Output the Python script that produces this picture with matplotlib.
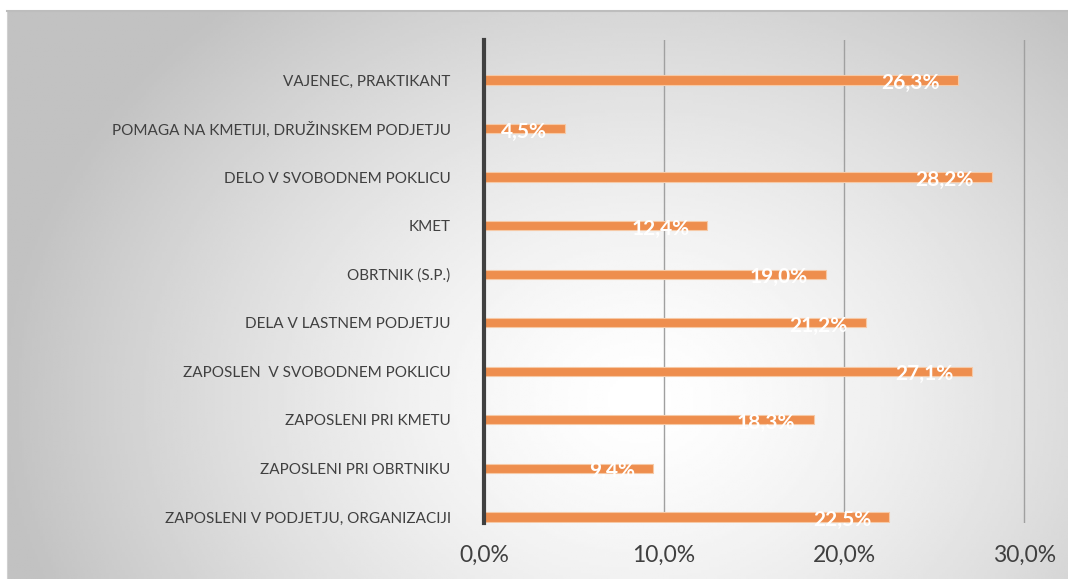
import numpy as np
import matplotlib.pyplot as plt

categories = [
    "ZAPOSLENI V PODJETJU, ORGANIZACIJI",
    "ZAPOSLENI PRI OBRTNIKU",
    "ZAPOSLENI PRI KMETU",
    "ZAPOSLEN  V SVOBODNEM POKLICU",
    "DELA V LASTNEM PODJETJU",
    "OBRTNIK (S.P.)",
    "KMET",
    "DELO V SVOBODNEM POKLICU",
    "POMAGA NA KMETIJI, DRUŽINSKEM PODJETJU",
    "VAJENEC, PRAKTIKANT",
]
values = [22.5, 9.4, 18.3, 27.1, 21.2, 19.0, 12.4, 28.2, 4.5, 26.3]
xticks = [0, 10, 20, 30]

plt.rcParams['font.family'] = ['Lato', 'DejaVu Sans']

W, H = 1068, 579
fig = plt.figure(figsize=(W / 100, H / 100), dpi=100)
fig.patch.set_facecolor('white')

# radial grey background of the chart frame
bg = fig.add_axes([7 / W, 0, 1 - 7 / W, (H - 11) / H], zorder=0)
gx, gy = np.meshgrid(np.linspace(7, W, 400), np.linspace(11, H, 220))
t = np.sqrt(((gx - 640) / 640) ** 2 + ((gy - 400) / 520) ** 2)
shade = 1 - 0.24 * np.clip(t, 0, 1) ** 1.4
bg.imshow(shade, cmap='gray', vmin=0, vmax=1, aspect='auto',
          extent=[0, 1, 0, 1], origin='upper')
bg.set_xticks([])
bg.set_yticks([])
for s in bg.spines.values():
    s.set_visible(False)
bg.spines['top'].set_visible(True)
bg.spines['top'].set_color('#bdbdbd')
bg.spines['top'].set_linewidth(1.5)
bg.spines['left'].set_visible(True)
bg.spines['left'].set_color('#d0d0d0')

ax = fig.add_axes([484 / W, (H - 523) / H, 542 / W, 483 / H], zorder=1)
ax.patch.set_alpha(0)
y = np.arange(len(categories))
ax.barh(y, values, height=0.19, color='#EE8E4E', edgecolor='#F6C9A6',
        linewidth=0.8, zorder=3)
for yi, v in zip(y, values):
    ax.text(v - 1.0, yi - 0.06, f"{v:.1f}%".replace('.', ','), ha='right',
            va='center', color='white', fontsize=15, fontweight='bold', zorder=4)

ax.set_xlim(0, 30.1)
ax.set_ylim(-0.124, 9.824)
ax.set_xticks(xticks)
ax.set_xticklabels([f"{t:.1f}%".replace('.', ',') for t in xticks],
                   fontsize=16.5, color='#404040')
ax.set_yticks(y)
ax.set_yticklabels(categories, fontsize=11, color='#404040')
ax.tick_params(axis='x', length=0, pad=16)
ax.tick_params(axis='y', length=0, pad=24)
ax.grid(axis='x', color='#a0a0a0', linewidth=1, zorder=1)
for s in ['top', 'right', 'bottom']:
    ax.spines[s].set_visible(False)
ax.spines['left'].set_color('#404040')
ax.spines['left'].set_linewidth(3)
ax.spines['left'].set_zorder(5)

fig.savefig('out.png', dpi=100)
